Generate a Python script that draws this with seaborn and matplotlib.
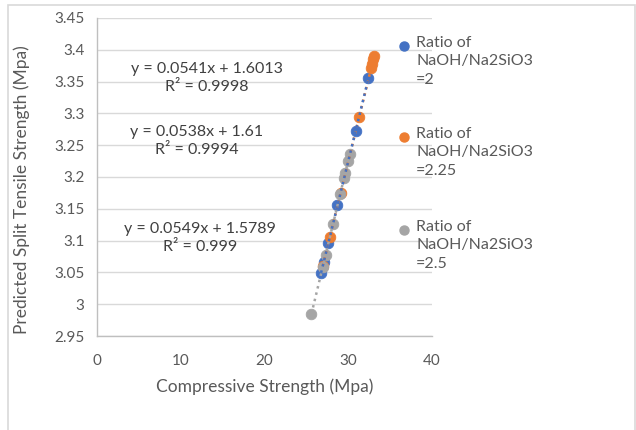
import numpy as np
import pandas as pd
import matplotlib
matplotlib.use("Agg")
import matplotlib.pyplot as plt
from matplotlib.lines import Line2D
from matplotlib.patches import Rectangle
import seaborn as sns

# ---- data ----
series_names = ["Ratio of\nNaOH/Na2SiO3\n=2",
                "Ratio of\nNaOH/Na2SiO3\n=2.25",
                "Ratio of\nNaOH/Na2SiO3\n=2.5"]
x_r2 = [26.76, 27.07, 27.63, 28.70, 30.88, 32.41]
y_r2 = [3.049, 3.066, 3.096, 3.156, 3.272, 3.355]
x_r225 = [26.95, 27.81, 29.09, 31.30, 32.75, 32.86, 32.99, 33.09]
y_r225 = [3.060, 3.106, 3.175, 3.294, 3.372, 3.378, 3.385, 3.390]
x_r25 = [25.61, 26.94, 27.29, 28.18, 29.06, 29.49, 29.64, 29.98, 30.18]
y_r25 = [2.985, 3.058, 3.077, 3.126, 3.174, 3.198, 3.206, 3.225, 3.236]
equations = ["y = 0.0541x + 1.6013\nR\u00b2 = 0.9998",
             "y = 0.0538x + 1.61\nR\u00b2 = 0.9994",
             "y = 0.0549x + 1.5789\nR\u00b2 = 0.999"]
x_ticks = [0, 10, 20, 30, 40]
y_ticks = [2.95, 3.0, 3.05, 3.1, 3.15, 3.2, 3.25, 3.3, 3.35, 3.4, 3.45]
y_tick_labels = ["2.95", "3", "3.05", "3.1", "3.15", "3.2", "3.25", "3.3", "3.35", "3.4", "3.45"]

colors = ["#4472C4", "#ED7D31", "#A5A5A5"]

sns.set_theme(style="white")
plt.rcParams["font.family"] = ["Lato", "DejaVu Sans"]

fig = plt.figure(figsize=(6.36, 4.30), dpi=100)
ax = fig.add_axes([97/636, 1-336/430, (432-97)/636, (336-18)/430])

# outer frame
fig.add_artist(Rectangle((8/636, -0.01), (635-8)/636, 1-5/430 + 0.01,
                         transform=fig.transFigure, fill=False,
                         edgecolor="#D9D9D9", linewidth=1.2))

data_sets = [(x_r2, y_r2), (x_r225, y_r225), (x_r25, y_r25)]
for (xs, ys), c in zip(data_sets, colors):
    df = pd.DataFrame({"x": xs, "y": ys})
    sns.scatterplot(data=df, x="x", y="y", ax=ax, color=c, s=58,
                    edgecolor=c, linewidth=0.6, zorder=3)
# trendlines (drawn gray, orange, blue so that all dotted patterns show)
for (xs, ys), c in list(zip(data_sets, colors))[::-1]:
    df = pd.DataFrame({"x": xs, "y": ys})
    sns.regplot(data=df, x="x", y="y", ax=ax, ci=None, scatter=False,
                truncate=True,
                line_kws=dict(color=c, linestyle=(0, (1, 1.6)), linewidth=1.8, zorder=4))

ax.set_xlim(0, 40)
ax.set_ylim(2.95, 3.45)
ax.set_xticks(x_ticks)
ax.set_yticks(y_ticks)
ax.set_yticklabels(y_tick_labels)
ax.grid(axis="y", color="#D9D9D9", linewidth=1)
ax.grid(axis="x", visible=False)
for s in ["top", "right"]:
    ax.spines[s].set_visible(False)
for s in ["left", "bottom"]:
    ax.spines[s].set_color("#BFBFBF")
    ax.spines[s].set_linewidth(1)
ax.tick_params(axis="both", colors="#BFBFBF", length=5, width=1, direction="out",
               labelcolor="#595959", labelsize=11, pad=4)
ax.tick_params(axis="x", pad=8)
ax.set_xlabel("Compressive Strength (Mpa)", fontsize=12.5, color="#595959")
ax.set_ylabel("Predicted Split Tensile Strength (Mpa)", fontsize=12.5, color="#595959")
ax.xaxis.set_label_coords((265-97)/335, -(387-336)/318)
ax.xaxis.label.set_va("center")
ax.yaxis.set_label_coords((22-97)/335, (336-190)/318)
ax.yaxis.label.set_va("center")

# trendline equation labels
eq_pos = [(207, 78), (197, 141), (200, 238)]
for (px, py), txt in zip(eq_pos, equations):
    fig.text(px/636, 1-py/430, txt, ha="center", va="center", fontsize=11.5,
             color="#404040", linespacing=1.3)

# legend (manual, Excel style: marker aligned with first line)
leg_tops = [46, 137, 230]
for c, name, ty in zip(colors, series_names, leg_tops):
    fig.add_artist(Line2D([404/636], [1-ty/430], marker="o", markersize=6.5,
                          color=c, markeredgecolor=c, linestyle="none",
                          transform=fig.transFigure))
    fig.text(416/636, 1-(ty-10)/430, name, ha="left", va="top", fontsize=11.5,
             color="#595959", linespacing=1.4)

fig.savefig("out.png", dpi=100, facecolor="white")
